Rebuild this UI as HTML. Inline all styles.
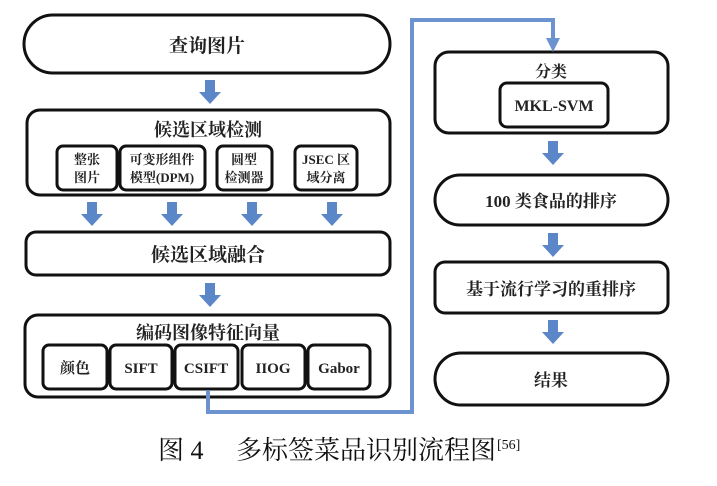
<!DOCTYPE html>
<html><head><meta charset="utf-8"><style>
html,body{margin:0;padding:0;background:#fff;}
svg{display:block;}
text{font-family:"Liberation Serif","Noto Serif CJK SC","Noto Sans CJK SC",serif;fill:#222;font-weight:bold;}
.cap{font-weight:normal;fill:#111;}
</style></head><body>
<svg width="717" height="486" viewBox="0 0 717 486" xmlns="http://www.w3.org/2000/svg">
<defs>
<g id="arr"><rect x="-5" y="0" width="10" height="14" fill="#5b86c8"/><polygon points="-11,12 11,12 0,24" fill="#5b86c8"/></g>
</defs>
<g fill="none" stroke="#111" stroke-width="3">
<rect x="24" y="15" width="366" height="58" rx="29"/>
<rect x="27" y="110" width="363" height="85" rx="13"/>
<rect x="57" y="146" width="60" height="44" rx="6"/>
<rect x="120" y="146" width="85" height="44" rx="6"/>
<rect x="217" y="146" width="55" height="44" rx="6"/>
<rect x="295" y="146" width="62" height="44" rx="6"/>
<rect x="26" y="232" width="364" height="43" rx="10"/>
<rect x="25" y="315" width="365" height="82" rx="13"/>
<rect x="43" y="345" width="64" height="44" rx="6"/>
<rect x="110" y="345" width="62" height="44" rx="6"/>
<rect x="175" y="345" width="63" height="44" rx="6"/>
<rect x="242" y="345" width="63" height="44" rx="6"/>
<rect x="308" y="345" width="62" height="44" rx="6"/>
<rect x="435" y="52" width="233" height="81" rx="14"/>
<rect x="500" y="83" width="108" height="44" rx="7"/>
<rect x="435" y="175" width="233" height="50" rx="25"/>
<rect x="435" y="262" width="233" height="51" rx="10"/>
<rect x="435" y="353" width="233" height="52" rx="26"/>
</g>
<polyline points="208,390 208,412 412,412 412,20 553,20 553,40" fill="none" stroke="#6b93d0" stroke-width="4"/>
<polygon points="546,38 560,38 553,52" fill="#6b93d0"/>
<use href="#arr" x="210" y="80"/>
<use href="#arr" x="92" y="202"/>
<use href="#arr" x="172" y="202"/>
<use href="#arr" x="252" y="202"/>
<use href="#arr" x="332" y="202"/>
<use href="#arr" x="210" y="283"/>
<use href="#arr" x="553" y="141"/>
<use href="#arr" x="553" y="233"/>
<use href="#arr" x="553" y="320"/>
<g text-anchor="middle">
<text x="207" y="52" font-size="19">查询图片</text>
<text x="208" y="136" font-size="18">候选区域检测</text>
<text x="87" y="164" font-size="13">整张</text><text x="87" y="182" font-size="13">图片</text>
<text x="162" y="164" font-size="13">可变形组件</text><text x="162" y="182" font-size="13">模型(DPM)</text>
<text x="244" y="164" font-size="13">圆型</text><text x="244" y="182" font-size="13">检测器</text>
<text x="326" y="164" font-size="13">JSEC 区</text><text x="326" y="182" font-size="13">域分离</text>
<text x="208" y="261" font-size="19">候选区域融合</text>
<text x="208" y="339" font-size="18">编码图像特征向量</text>
<text x="75" y="373" font-size="15">颜色</text>
<text x="141" y="373" font-size="15">SIFT</text>
<text x="206" y="373" font-size="15">CSIFT</text>
<text x="273" y="373" font-size="15">IIOG</text>
<text x="339" y="373" font-size="15">Gabor</text>
<text x="551" y="77" font-size="16">分类</text>
<text x="554" y="111" font-size="16">MKL-SVM</text>
<text x="551" y="207" font-size="17">100 类食品的排序</text>
<text x="551" y="295" font-size="17">基于流行学习的重排序</text>
<text x="551" y="386" font-size="17">结果</text>
</g>
<text class="cap" x="158" y="459" font-size="26">图 4</text>
<text class="cap" x="236" y="459" font-size="26">多标签菜品识别流程图</text>
<text class="cap" x="497" y="449" font-size="14">[56]</text>
</svg>
</body></html>
